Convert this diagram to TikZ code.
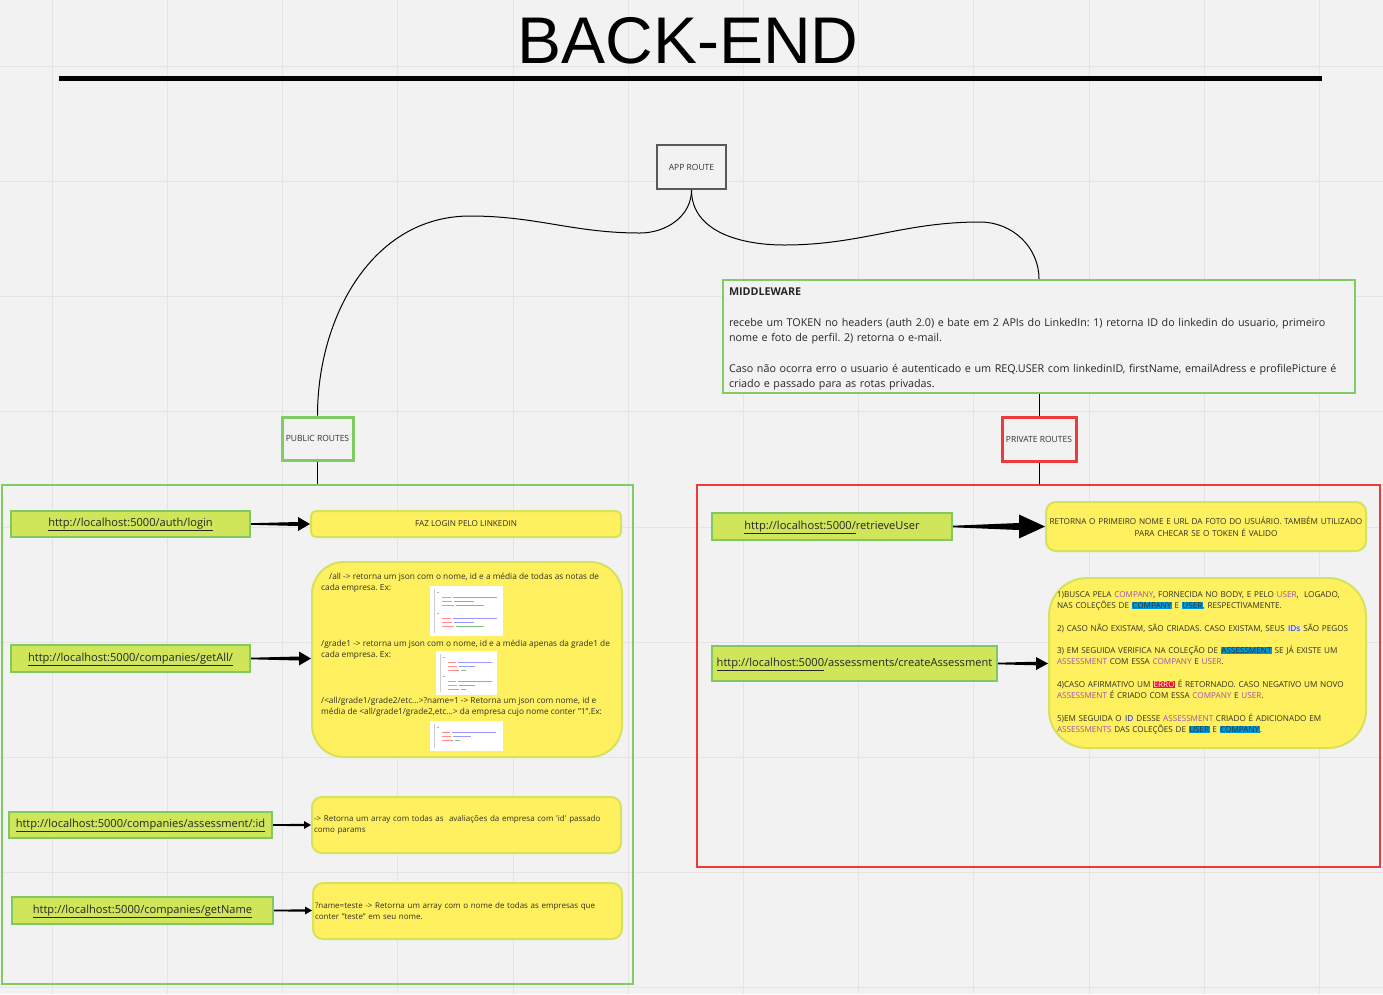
\documentclass[tikz,border=0pt]{standalone}
\usepackage{fontspec}
\setmainfont{Open Sans}
\newfontfamily\titlefont{Liberation Sans}
\usetikzlibrary{arrows.meta,positioning,calc}
\frenchspacing
\definecolor{board}{RGB}{242,242,242}
\definecolor{gridline}{RGB}{228,228,228}
\definecolor{frame-green}{RGB}{128,204,98}
\definecolor{frame-red}{RGB}{238,58,58}
\definecolor{url-fill}{RGB}{207,229,90}
\definecolor{url-line}{RGB}{128,200,96}
\definecolor{note-fill}{RGB}{255,240,96}
\definecolor{note-line}{RGB}{214,226,90}
\definecolor{hl-blue}{RGB}{0,150,215}
\definecolor{hl-purple}{RGB}{160,80,180}
\definecolor{hl-red}{RGB}{240,20,40}
\definecolor{hl-gray}{RGB}{218,226,238}
\definecolor{ink}{RGB}{48,48,36}
\tikzstyle{route}=[draw,fill=board,line width=3pt,inner sep=0pt,font=\fontsize{8.5}{10}\selectfont,text=black!80]
\tikzstyle{url}=[draw=url-line,fill=url-fill,line width=2pt,inner sep=0pt,text height=7.5pt,text depth=2.5pt,
                 font=\fontsize{11.1}{13}\selectfont,text=black!85]
\tikzstyle{note}=[draw=note-line,fill=note-fill,line width=2pt,inner sep=0pt,text=ink]
\tikzstyle{frame}=[draw,line width=2pt,inner sep=0pt]
\tikzstyle{link}=[draw,line width=1pt]
\tikzstyle{code}=[line width=0.8pt]
\tikzstyle{detail}=[anchor=north west,inner sep=0pt,align=left,text=ink,font=\fontsize{8.3}{11.3}\selectfont]
% horizontal tapered arrow: head length, half shaft width at the head, half head width
\tikzset{taper/.style n args={3}{to path={let \p1=(\tikztostart), \p2=(\tikztotarget) in
  (\x1,{\y1-0.8pt}) -- ({\x2-#1},{\y2-#2}) -- ({\x2-#1},{\y2-#3}) -- (\x2,\y2)
  -- ({\x2-#1},{\y2+#3}) -- ({\x2-#1},{\y2+#2}) -- (\x1,{\y1+0.8pt}) -- cycle}}}
\newcommand{\purpleword}[1]{\textcolor{hl-purple}{#1}}
\newcommand{\bluebox}[1]{{\setlength{\fboxsep}{0.5pt}\colorbox{hl-blue}{#1}}}
\newcommand{\redbox}[1]{{\setlength{\fboxsep}{0.5pt}\colorbox{hl-red}{\textcolor{white}{#1}}}}
\newcommand{\graybox}[1]{{\setlength{\fboxsep}{0.5pt}\colorbox{hl-gray}{#1}}}
\begin{document}
\begin{tikzpicture}[x=1pt,y=-1pt]
  \useasboundingbox (0,0) rectangle (1383,994);
  \fill[board] (0,0) rectangle (1383,994);
  \foreach \i in {0,...,11}
    \draw[gridline] ({52+115.2*\i},0) -- ++(0,994);
  \foreach \i in {0,...,8}
    \draw[gridline] (0,{66+115.2*\i}) -- ++(1383,0);

  % Title
  \node (title) at (688,40.5) {\titlefont\fontsize{66}{66}\selectfont BACK-END};
  \draw[line width=5pt] (59,78) -- (1322,78);

  % Routes
  \node [route,draw=black!65,line width=2pt,minimum width=69pt,minimum height=44pt] (app) at (691.5,167) {APP ROUTE};
  \node [frame,draw=frame-green,fill=board,minimum width=632pt,minimum height=113pt] (mw) at (1039,336.5) {};
  \node [align=left,text width=620pt,inner sep=0pt,font=\fontsize{10.75}{15.3}\selectfont,text=black!85] (mwtext) at (1039,339)
    {\textbf{MIDDLEWARE}\\[15.3pt]
     recebe um TOKEN no headers (auth 2.0) e bate em 2 APIs do LinkedIn: 1) retorna ID do linkedin do usuario, primeiro\\
     nome e foto de perfil. 2) retorna o e-mail.\\[15.3pt]
     Caso não ocorra erro o usuario é autenticado e um REQ.USER com linkedinID, firstName, emailAdress e profilePicture é\\
     criado e passado para as rotas privadas.};
  \node [route,draw=frame-green,minimum width=71pt,minimum height=43pt] (pub) at (317.5,438.5) {PUBLIC ROUTES};
  \node [route,draw=frame-red,minimum width=74pt,minimum height=44pt] (priv) at (1039,439) {PRIVATE ROUTES};

  \node [frame,draw=frame-green,minimum width=631pt,minimum height=499pt] (pubframe) at (317.5,734.5) {};
  \node [frame,draw=frame-red,minimum width=683pt,minimum height=382pt] (privframe) at (1038.5,676) {};

  \draw[link] (app.south) to[out=-90,in=0] (640,233) to[out=180,in=0] (470,216) to[out=180,in=90] (pub.north);
  \draw[link] (app.south) to[out=-90,in=180] (784,245) to[out=0,in=180] (980,222) to[out=0,in=90] (mw.north);
  \draw[link] (mw.south) -- (priv.north);
  \draw[link] (pub.south) -- (pubframe.north);
  \draw[link] (priv.south) -- (priv.south |- privframe.north);

  % Public endpoints
  \node [url,minimum width=239pt,minimum height=26pt] (login) at (130.5,524) {\underline{http://localhost:5000/auth/login}};
  \node [url,minimum width=239pt,minimum height=27pt] (getall) at (130.5,658.5) {\underline{http://localhost:5000/companies/getAll/}};
  \node [url,minimum width=263pt,minimum height=26pt] (assess) at (140.5,825) {\underline{http://localhost:5000/companies/assessment/:id}};
  \node [url,minimum width=261pt,minimum height=27pt] (getname) at (142.5,910.5) {\underline{http://localhost:5000/companies/getName}};

  \node [note,rounded corners=5pt,minimum width=310pt,minimum height=26pt,font=\fontsize{8.2}{10}\selectfont] (fazlogin) at (466,524) {FAZ LOGIN PELO LINKEDIN};
  \node [note,rounded corners=32pt,minimum width=310pt,minimum height=195pt] (allnote) at (467,659.5) {};
  \node [note,rounded corners=10pt,minimum width=309pt,minimum height=56pt,inner xsep=2pt,text width=305pt,align=left,
         font=\fontsize{8}{11.3}\selectfont] (assessnote) at (466.5,825)
    {-> Retorna um array com todas as\ \ avaliações da empresa com \textquotesingle id\textquotesingle{} passado\\como params};
  \node [note,rounded corners=10pt,minimum width=309pt,minimum height=56pt,inner xsep=2pt,text width=305pt,align=left,
         font=\fontsize{8}{11.3}\selectfont] (namenote) at (467.5,911)
    {?name=teste -> Retorna um array com o nome de todas as empresas que\\conter "teste" em seu nome.};

  % getAll details
  \node [detail] (alltext) at (321,573)
    {\hspace{8pt}/all -> retorna um json com o nome, id e a média de todas as notas de\\cada empresa. Ex:};
  \node [detail] (gradetext) at (321,640)
    {/grade1 -> retorna um json com o nome, id e a média apenas da grade1 de\\cada empresa. Ex:};
  \node [detail] (nametext) at (321,697)
    {/<all/grade1/grade2/etc...>?name=1 -> Retorna um json com nome, id e\\média de <all/grade1/grade2,etc...> da empresa cujo nome conter "1".Ex:};
  \node [fill=white,inner sep=0pt,minimum width=73pt,minimum height=50pt] (json1) at (466.5,611) {};
  \node [fill=white,inner sep=0pt,minimum width=61pt,minimum height=44pt] (json2) at (466.5,673) {};
  \node [fill=white,inner sep=0pt,minimum width=73pt,minimum height=30pt] (json3) at (466.5,736) {};

  \begin{scope}[shift={(json1.north west)}]
    \draw[black!20,line width=0.5pt] (4,3) -- (4,47);
    \foreach \r in {0,21} {
      \draw[code,black!30] (7,{\r+7}) -- ++(2,0);
      \draw[code,red!45] (12,{\r+12}) -- ++(9,0);
      \draw[code,blue!40] (23,{\r+12}) -- ++(44,0);
      \draw[code,red!45] (12,{\r+16}) -- ++(10,0);
      \draw[code,blue!40] (24,{\r+16}) -- ++(20,0);
      \draw[code,red!45] (12,{\r+20}) -- ++(12,0);
      \draw[code,green!50!black!50] (26,{\r+20}) -- ++(28,0);
    }
  \end{scope}
  \begin{scope}[shift={(json2.north west)}]
    \draw[black!20,line width=0.5pt] (4,3) -- (4,41);
    \foreach \r in {0,19} {
      \draw[code,black!30] (7,{\r+7}) -- ++(2,0);
      \draw[code,red!45] (12,{\r+12}) -- ++(8,0);
      \draw[code,blue!40] (22,{\r+12}) -- ++(34,0);
      \draw[code,red!45] (12,{\r+16}) -- ++(9,0);
      \draw[code,blue!40] (23,{\r+16}) -- ++(16,0);
      \draw[code,red!45] (12,{\r+20}) -- ++(11,0);
      \draw[code,green!50!black!50] (25,{\r+20}) -- ++(5,0);
    }
  \end{scope}
  \begin{scope}[shift={(json3.north west)}]
    \draw[black!20,line width=0.5pt] (4,3) -- (4,27);
    \draw[code,black!30] (7,7) -- ++(2,0);
    \draw[code,red!45] (12,12) -- ++(8,0);
    \draw[code,blue!40] (22,12) -- ++(44,0);
    \draw[code,red!45] (12,16) -- ++(9,0);
    \draw[code,blue!40] (23,16) -- ++(18,0);
    \draw[code,red!45] (12,20) -- ++(11,0);
    \draw[code,green!50!black!50] (25,20) -- ++(5,0);
  \end{scope}

  \fill (login.east) to[taper={12pt}{2pt}{7pt}] (fazlogin.west);
  \fill (getall.east) to[taper={12pt}{2pt}{7pt}] (getall.east -| allnote.west);
  \fill (assess.east) to[taper={7pt}{1.2pt}{4pt}] (assessnote.west);
  \fill (getname.east) to[taper={7pt}{1.2pt}{4pt}] (getname.east -| namenote.west);

  % Private endpoints
  \node [url,minimum width=240pt,minimum height=27pt] (retrieve) at (832,526.5) {\underline{http://localhost:5000/}retrieveUser};
  \node [url,minimum width=285pt,minimum height=35pt] (create) at (854.5,663.5) {\underline{http://localhost:5000}/assessments/createAssessment};

  \node [note,rounded corners=10pt,minimum width=320pt,minimum height=49pt,text width=316pt,align=center,
         font=\fontsize{8.2}{12}\selectfont] (usernote) at (1206,526.5)
    {RETORNA O PRIMEIRO NOME E URL DA FOTO DO USUÁRIO. TAMBÉM UTILIZADO\\PARA CHECAR SE O TOKEN É VALIDO};
  \node [note,rounded corners=38pt,minimum width=317pt,minimum height=170pt,inner xsep=8pt,text width=301pt,align=left,
         font=\fontsize{8.15}{11.3}\selectfont] (createnote) at (1207.5,663)
    {1)BUSCA PELA \purpleword{COMPANY}, FORNECIDA NO BODY, E PELO \purpleword{USER},\ \ LOGADO,\\
     NAS COLEÇÕES DE \bluebox{COMPANY} E \bluebox{USER}, RESPECTIVAMENTE.\\[11.3pt]
     2) CASO NÃO EXISTAM, SÃO CRIADAS. CASO EXISTAM, SEUS \graybox{IDs} SÃO PEGOS\\[11.3pt]
     3) EM SEGUIDA VERIFICA NA COLEÇÃO DE \bluebox{ASSESSMENT} SE JÁ EXISTE UM\\
     \purpleword{ASSESSMENT} COM ESSA \purpleword{COMPANY} E \purpleword{USER}.\\[11.3pt]
     4)CASO AFIRMATIVO UM \redbox{ERRO} É RETORNADO. CASO NEGATIVO UM NOVO\\
     \purpleword{ASSESSMENT} É CRIADO COM ESSA \purpleword{COMPANY} E \purpleword{USER}.\\[11.3pt]
     5)EM SEGUIDA O \graybox{ID} DESSE \purpleword{ASSESSMENT} CRIADO É ADICIONADO EM\\
     \purpleword{ASSESSMENTS} DAS COLEÇÕES DE \bluebox{USER} E \bluebox{COMPANY}.};

  \fill (retrieve.east) to[taper={26pt}{3.5pt}{12pt}] (retrieve.east -| usernote.west);
  \fill (create.east) to[taper={12pt}{1.8pt}{6.5pt}] (create.east -| createnote.west);
\end{tikzpicture}
\end{document}
